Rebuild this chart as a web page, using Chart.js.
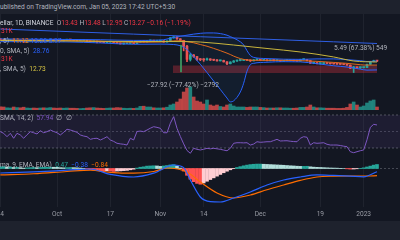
<!DOCTYPE html>
<html>
<head>
<meta charset="utf-8">
<script src="https://cdn.jsdelivr.net/npm/chart.js@4.4.1/dist/chart.umd.min.js"></script>
<style>
  html, body { margin: 0; padding: 0; }
  body { width: 400px; height: 240px; overflow: hidden; background: #131722; position: relative;
         font-family: Roboto, "Noto Sans", sans-serif; }
  .band { position: absolute; left: 0; width: 400px; background: #1e222d; }
  canvas { position: absolute; left: 0; }
  .t { position: absolute; white-space: nowrap; font-size: 6.6px; line-height: 8px; color: #b2b5be; z-index: 5; }
  .w { color: #d1d4dc; }
  .r { color: #f23645; }
  .b { color: #2962ff; }
  .o { color: #ff6d00; }
  .y { color: #d6c443; }
  .p { color: #7e57c2; }
  .g { color: #26a69a; }
</style>
</head>
<body>
<div class="band" style="top:0;height:14px"></div>
<div class="band" style="top:221px;height:19px"></div>

<canvas id="price" width="400" height="96" style="top:14px"></canvas>
<canvas id="rsi" width="400" height="47" style="top:110px"></canvas>
<canvas id="macd" width="400" height="64" style="top:157px"></canvas>

<div class="t" style="left:0;top:3px">ublished on TradingView.com, Jan 05, 2023 17:42 UTC+5:30</div>
<div class="t" style="left:0;top:19px"><span class="w">ellar, 1D, BINANCE</span>&nbsp; O<span class="r">13.43</span> H<span class="r">13.48</span> L<span class="r">12.95</span> C<span class="r">13.27</span> <span class="r">−0.16 (−1.19%)</span></div>
<div class="t r" style="left:1px;top:27px">31K</div>
<div class="t" style="left:0;top:37px">, 5)&nbsp; <span class="o">11.12</span> <span class="b">13.28</span> <span class="b">8.97</span></div>
<div class="t" style="left:0;top:47px">0, SMA, 5)&nbsp; <span class="b">28.76</span></div>
<div class="t r" style="left:1px;top:55px">31K</div>
<div class="t" style="left:0;top:65px">, SMA, 5)&nbsp; <span class="y">12.73</span></div>
<div class="t" style="left:147px;top:81px">−27.92 (−77.42%) −2792</div>
<div class="t" style="left:334px;top:44px">5.49 (67.38%) 549</div>
<div class="t" style="left:0;top:114px">SMA, 14, 2)&nbsp; <span class="p">57.94</span>&nbsp; ∅&nbsp; ∅</div>
<div class="t" style="left:0;top:161px">ma, 9, EMA, EMA)&nbsp; <span class="g">0.47</span>&nbsp; <span class="b">−0.38</span>&nbsp; <span class="o">−0.84</span></div>

<script>
// time axis: day index 0 = Sep 14 2022, last = Jan 5 2023
const tickDays = [0, 17, 33, 48, 61, 78, 96, 109];
const dayLabels = ["14", "Oct", "17", "Nov", "14", "Dec", "19", "2023"];

// daily candles (open = previous close)
const firstOpen = 34.9;
const closes = [
  34.0, 32.2, 33.0, 33.9, 31.4, 32.9, 31.9, 30.7, 32.4, 32.8, 32.6, 32.3, 33.0, 32.1, 33.3, 33.7, 33.3,
  33.1, 32.3, 33.4, 34.2, 33.6, 32.9, 32.6, 32.8, 33.1, 31.9, 31.1, 31.3, 30.9, 30.4, 30.0, 30.6,
  31.0, 30.0, 28.9, 28.3, 28.6, 28.9, 29.4, 28.8, 30.4, 31.9, 30.9, 32.2, 33.1, 31.9, 32.1,
  32.4, 30.7, 32.3, 37.0, 38.5, 35.4, 33.0, 25.5, 14.3, 17.4, 16.2, 14.3, 14.1, 14.0, 14.6, 13.9,
  13.8, 13.4, 13.6, 12.8, 11.8, 12.7, 13.3, 13.6, 13.6, 14.0, 13.7, 13.4, 14.0, 14.2,
  13.8, 13.9, 13.5, 13.8, 13.6, 13.6, 13.2, 13.5, 13.5, 13.5, 13.4, 13.3, 14.1, 14.2, 13.5, 12.1,
  12.3, 11.9, 11.9, 12.2, 11.9, 11.8, 11.7, 11.6, 11.5, 11.4, 11.1, 9.7, 10.2, 9.9, 9.96,
  10.0, 11.5, 12.9, 13.43, 13.27
];
const highs = [
  35.4, 34.3, 33.5, 34.2, 34.1, 33.3, 33.5, 32.6, 32.8, 33.6, 33.3, 33.0, 33.5, 33.9, 33.6, 34.4, 34.3,
  33.6, 33.4, 33.7, 34.6, 34.5, 33.9, 33.0, 33.1, 33.3, 33.4, 32.0, 31.9, 31.5, 31.9, 30.7, 30.8,
  31.4, 31.4, 30.2, 29.6, 29.3, 29.4, 29.6, 29.5, 30.6, 32.3, 32.4, 32.6, 33.6, 33.3, 32.6,
  33.0, 32.6, 32.5, 37.5, 38.8, 38.9, 35.5, 33.2, 26.5, 18.5, 17.7, 16.4, 14.8, 14.8, 15.2, 14.7,
  14.1, 14.2, 13.9, 13.8, 12.9, 12.9, 13.6, 13.9, 14.3, 14.3, 14.3, 14.0, 14.2, 14.6,
  14.4, 14.0, 14.0, 13.9, 14.1, 13.8, 13.7, 13.6, 13.8, 13.7, 13.6, 13.4, 14.4, 14.6, 14.3, 13.6,
  12.4, 12.4, 12.1, 12.4, 12.3, 12.0, 11.9, 11.8, 11.7, 11.6, 11.5, 11.2, 10.5, 10.2, 10.2,
  10.1, 11.6, 13.1, 13.8, 13.48
];
const lows = [
  33.6, 31.7, 31.6, 32.7, 31.2, 30.9, 31.5, 30.3, 30.2, 32.1, 32.3, 32.0, 31.9, 31.8, 31.6, 32.9, 32.8,
  32.8, 32.1, 32.1, 33.3, 33.3, 32.6, 32.2, 32.5, 32.7, 31.6, 30.8, 30.6, 29.4, 30.2, 29.9, 29.9,
  30.4, 29.8, 28.6, 28.0, 27.9, 28.4, 28.7, 28.5, 28.7, 30.2, 30.6, 30.5, 32.0, 31.7, 31.6,
  31.8, 30.4, 30.5, 32.2, 36.2, 34.6, 32.8, 20.8, 12.9, 13.3, 15.6, 13.6, 13.5, 13.1, 13.8, 13.6,
  13.5, 13.2, 13.3, 12.7, 11.3, 11.7, 12.5, 13.1, 13.4, 13.6, 13.5, 13.0, 13.3, 13.8,
  13.6, 13.6, 13.4, 13.4, 13.4, 13.4, 13.0, 13.1, 13.4, 13.4, 13.3, 13.0, 13.2, 13.9, 13.4, 11.9,
  11.8, 11.7, 11.6, 11.7, 11.8, 11.6, 11.6, 11.5, 11.4, 11.3, 11.0, 9.5, 8.0, 9.6, 9.6,
  9.8, 9.9, 11.4, 12.8, 12.95
];
// volume, millions
const volumes = [
  3.2, 3.0, 2.2, 2.0, 3.0, 2.4, 2.2, 2.8, 2.0, 1.8, 2.0, 1.8, 2.0, 2.2, 2.0, 2.4, 2.0,
  1.8, 2.0, 1.8, 2.0, 1.8, 1.8, 1.6, 1.4, 1.6, 2.0, 2.2, 2.4, 2.0, 1.8, 1.6, 1.8,
  2.0, 2.0, 2.4, 2.2, 1.8, 1.6, 1.8, 1.6, 2.0, 3.6, 3.8, 3.0, 3.0, 2.2, 2.0,
  2.0, 2.2, 2.8, 5.0, 6.0, 8.0, 11.0, 18.0, 22.0, 23.0, 13.0, 9.0, 8.0, 6.0, 10.0, 5.0,
  4.0, 5.0, 3.5, 3.0, 5.0, 6.0, 4.0, 3.0, 3.0, 3.0, 2.6, 3.0, 3.0, 3.0,
  2.6, 2.4, 2.0, 2.0, 2.0, 2.2, 2.2, 2.0, 2.0, 1.8, 1.8, 2.0, 2.6, 2.6, 3.0, 5.0,
  3.0, 2.2, 2.2, 2.0, 1.8, 1.8, 1.8, 1.6, 1.6, 1.8, 2.6, 6.0, 8.0, 5.0, 3.0,
  4.0, 7.0, 9.0, 10.0, 3.0
];

// moving averages, read at a few days (smooth lines)
const ma200Days = [0, 20, 40, 60, 80, 100, 113];
const ma200 = [54.5, 48.7, 43.5, 38.8, 34.7, 31.0, 28.76];
const ma50Days = [0, 20, 40, 55, 60, 70, 80, 90, 100, 106, 113];
const ma50 = [32.8, 32.2, 31.4, 31.3, 30.7, 26.9, 23.1, 19.8, 15.9, 13.3, 12.73];

// bollinger bands
const bbDays  = [0, 10, 20, 30, 40, 48, 52, 54, 56, 58, 60, 62, 64, 66, 68, 69, 70, 72, 73, 74, 75, 76, 80, 85, 90, 95, 100, 104, 108, 110, 113];
const bbUpper = [35.2, 34.8, 34.4, 34.0, 33.0, 33.4, 37.5, 39.5, 41.5, 43.5, 45.0, 45.8, 45.8, 44.5, 41.5, 39.0, 36.5, 31.0, 27.0, 21.0, 17.0, 15.6, 14.8, 14.4, 14.3, 14.6, 14.6, 14.1, 13.5, 13.0, 13.28];
const bbBasis = [33.2, 32.9, 32.6, 31.7, 30.4, 30.7, 32.3, 32.5, 31.3, 29.7, 27.5, 25.5, 23.2, 21.0, 18.8, 17.7, 16.5, 14.8, 14.3, 13.9, 13.7, 13.7, 13.7, 13.7, 13.5, 13.1, 12.5, 12.0, 11.3, 11.1, 11.12];
const bbLower = [31.2, 31.0, 30.8, 29.5, 27.8, 28.0, 27.5, 26.0, 22.0, 16.0, 11.5, 8.0, 5.5, 3.8, 2.6, 2.2, 2.3, 3.4, 5.0, 8.5, 11.3, 12.0, 12.6, 12.9, 12.8, 11.8, 10.8, 10.2, 9.3, 8.9, 8.97];

// drawings: range box and the measure line
const boxDays = [51.8, 113];
const boxTop = 10.9;
const boxBottom = 7.8;
const measureDay = 54.2;
const measureFrom = 27.0;
const measureTo = 8.14;

// RSI
const rsiValues = [
  49.8, 47.8, 43.7, 47.8, 41.8, 47.8, 45.8, 41.8, 46.0, 49.8, 48.5, 47.0, 51.0, 48.5, 49.8, 51.8, 50.0,
  48.5, 45.8, 49.0, 52.7, 51.8, 50.5, 49.0, 45.8, 44.5, 43.7, 40.5, 41.5, 41.8, 39.7, 41.5, 43.7,
  39.7, 38.0, 35.7, 35.0, 34.5, 33.6, 41.8, 39.7, 50.0, 50.5, 49.8, 51.8, 54.0, 55.8, 55.0,
  53.9, 48.5, 48.5, 60.0, 68.0, 53.9, 44.0, 35.0, 27.0, 23.6, 29.6, 28.4, 27.6, 28.5, 29.6, 29.0,
  29.6, 29.0, 28.4, 27.5, 26.7, 29.6, 35.7, 36.4, 36.4, 36.2, 36.4, 33.6, 34.8, 37.6,
  36.9, 37.2, 37.6, 37.6, 39.0, 40.5, 38.5, 38.7, 38.8, 38.2, 37.8, 37.6, 41.8, 43.7, 43.0, 33.6,
  36.4, 35.7, 36.0, 36.4, 34.5, 33.6, 33.6, 33.6, 33.0, 32.2, 31.6, 25.5, 24.3, 25.5, 26.7,
  27.6, 40.0, 55.0, 58.7, 57.9
];
const rsiLevels = [70, 50, 30];

// MACD (12, 26, 9)
const macdHist = [
  0.2, 0.22, 0.15, 0.18, 0.12, 0.15, 0.1, 0.05, 0.08, 0.1, 0.12, 0.1, 0.12, 0.14, 0.15, 0.16, 0.15,
  0.14, 0.1, 0.08, 0.1, 0.12, 0.1, 0.08, 0.05, 0.02, -0.05,
  -0.12, -0.18, -0.22, -0.28, -0.3, -0.28, -0.3, -0.35, -0.3, -0.28, -0.25, -0.22, -0.15, -0.08,
  0.05, 0.15, 0.2, 0.28, 0.3, 0.32, 0.3, 0.25, 0.3, 0.35, 0.42, 0.45, 0.3, 0.05,
  -0.3, -0.8, -1.25, -1.55, -1.75, -1.85,
  -1.7, -1.5, -1.3, -1.1, -0.9, -0.7, -0.5, -0.32, -0.15, -0.02,
  0.12, 0.22, 0.32, 0.4, 0.46, 0.5, 0.52, 0.52, 0.5, 0.48,
  0.46, 0.44, 0.42, 0.4, 0.38, 0.35, 0.32, 0.3, 0.27, 0.25,
  0.25, 0.26, 0.2, 0.16, 0.14, 0.12, 0.1, 0.08, 0.06, 0.05,
  0.04, 0.02, 0.0, -0.04, -0.07, -0.06, -0.03, 0.02, 0.08, 0.18, 0.28, 0.4, 0.47
];
const macdDays = [0, 10, 20, 27, 33, 40, 46, 52, 55, 57, 60, 63, 66, 70, 75, 80, 85, 90, 95, 100, 105, 109, 113];
const macdLine = [-0.53, -0.4, -0.2, -0.06, -0.7, -1.0, -0.55, 0.41, 0.1, -1.35, -3.35, -3.9, -3.94, -3.47, -2.76, -1.94, -1.35, -1.0, -0.76, -0.82, -0.9, -0.98, -0.38];
const signalDays = [0, 10, 20, 27, 33, 40, 46, 50, 56, 60, 65, 70, 75, 80, 85, 90, 95, 100, 105, 110, 113];
const signalLine = [-0.76, -0.62, -0.35, -0.18, -0.45, -0.55, -0.35, 0.06, -0.41, -1.59, -2.88, -3.47, -3.12, -2.5, -1.94, -1.4, -1.0, -0.9, -0.88, -0.88, -0.84];

// ---------------------------------------------------------------
const X_MIN = -0.1, X_MAX = 119.9;
const UP = "#26a69a", DOWN = "#ef5350";
const opens = closes.map((c, i) => (i === 0 ? firstOpen : closes[i - 1]));
const isUp = closes.map((c, i) => c >= opens[i]);
const pts = (days, vals) => days.map((d, i) => ({ x: d, y: vals[i] }));
const flat = (v) => [{ x: X_MIN, y: v }, { x: X_MAX, y: v }];

function timeScale(withLabels) {
  return {
    type: "linear", min: X_MIN, max: X_MAX, offset: false,
    border: { display: false },
    grid: { color: "rgba(42,46,57,0.55)", drawTicks: false, offset: false },
    ticks: {
      display: withLabels, autoSkip: false, maxRotation: 0, padding: 3,
      color: "#9a9da6", font: { size: 6.6, family: "Roboto" },
      callback: (v) => dayLabels[tickDays.indexOf(v)] ?? ""
    },
    afterBuildTicks: (s) => { s.ticks = tickDays.map((v) => ({ value: v })); },
    afterFit: (s) => { s.height = withLabels ? 14 : 0; s.paddingLeft = 0; s.paddingRight = 0; }
  };
}

function line(data, color, extra) {
  return Object.assign({
    type: "line", data, borderColor: color, borderWidth: 1, pointRadius: 0,
    cubicInterpolationMode: "monotone", fill: false, order: 1
  }, extra || {});
}

const common = {
  responsive: false, animation: false, devicePixelRatio: 1,
  layout: { padding: 0 },
  plugins: { legend: { display: false }, tooltip: { enabled: false } }
};

// price + volume
new Chart(document.getElementById("price"), {
  type: "bar",
  data: {
    datasets: [
      line(pts(ma200Days, ma200), "#2f5fe4"),
      line(pts(ma50Days, ma50), "#c9b53d"),
      line(pts(bbDays, bbBasis), "#e0681c"),
      line(pts(bbDays, bbUpper), "#2962ff", { fill: "+1", backgroundColor: "rgba(33,150,243,0.06)" }),
      line(pts(bbDays, bbLower), "#2962ff"),
      line([{ x: measureDay, y: measureFrom }, { x: measureDay, y: measureTo }], "#3f9a62",
           { cubicInterpolationMode: "default", order: 0 }),
      {
        type: "bar", grouped: false, order: 2, barThickness: 2, minBarLength: 1,
        data: closes.map((c, i) => ({ x: i, y: [opens[i], c] })),
        backgroundColor: isUp.map((u) => (u ? UP : DOWN))
      },
      {
        type: "bar", grouped: false, order: 3, barThickness: 1,
        data: closes.map((c, i) => ({ x: i, y: [lows[i], highs[i]] })),
        backgroundColor: isUp.map((u) => (u ? UP : DOWN))
      },
      line(boxDays.map((d) => ({ x: d, y: boxTop })), "rgba(0,0,0,0)",
           { cubicInterpolationMode: "default", borderWidth: 0, fill: "+1", backgroundColor: "rgba(242,54,69,0.3)", order: 5 }),
      line(boxDays.map((d) => ({ x: d, y: boxBottom })), "rgba(0,0,0,0)",
           { cubicInterpolationMode: "default", borderWidth: 0, order: 5 }),
      {
        type: "bar", grouped: false, order: 6, barThickness: 3, yAxisID: "yv",
        data: volumes.map((v, i) => ({ x: i, y: v })),
        backgroundColor: isUp.map((u) => (u ? "rgba(38,166,154,0.75)" : "rgba(239,83,80,0.75)"))
      }
    ]
  },
  options: Object.assign({}, common, {
    scales: {
      x: timeScale(false),
      y: { type: "logarithmic", min: 1.5365, max: 105.5, bounds: "data", display: false },
      yv: { type: "linear", min: 0, max: 96, display: false }
    }
  })
});

// RSI
new Chart(document.getElementById("rsi"), {
  type: "line",
  data: {
    datasets: [
      line(rsiValues.map((v, i) => ({ x: i, y: v })), "#7e57c2", { cubicInterpolationMode: "default", order: 0 }),
      line(flat(rsiLevels[0]), "rgba(120,123,134,0.6)", { borderDash: [2, 2], fill: "+2", backgroundColor: "rgba(126,87,194,0.1)" }),
      line(flat(rsiLevels[1]), "rgba(120,123,134,0.45)", { borderDash: [2, 2] }),
      line(flat(rsiLevels[2]), "rgba(120,123,134,0.6)", { borderDash: [2, 2] })
    ]
  },
  options: Object.assign({}, common, {
    scales: {
      x: timeScale(false),
      y: { type: "linear", min: 19.09, max: 76.06, display: false }
    }
  })
});

// MACD + time axis
new Chart(document.getElementById("macd"), {
  type: "bar",
  data: {
    datasets: [
      line(pts(macdDays, macdLine), "#2962ff", { borderWidth: 1.2, order: 0 }),
      line(pts(signalDays, signalLine), "#ff6d00", { borderWidth: 1.2, order: 1 }),
      line(flat(0), "rgba(120,123,134,0.5)", { borderDash: [2, 2], order: 3 }),
      {
        type: "bar", grouped: false, order: 2, barThickness: 3,
        data: macdHist.map((v, i) => ({ x: i, y: v })),
        backgroundColor: macdHist.map((v, i) => {
          const prev = i ? macdHist[i - 1] : v;
          if (v >= 0) return v >= prev ? "#26a69a" : "#b2dfdb";
          return v <= prev ? "#ff5252" : "#ffcdd2";
        })
      }
    ]
  },
  options: Object.assign({}, common, {
    scales: {
      x: timeScale(true),
      y: { type: "linear", min: -4.529, max: 1.353, display: false }
    }
  })
});
</script>
</body>
</html>
